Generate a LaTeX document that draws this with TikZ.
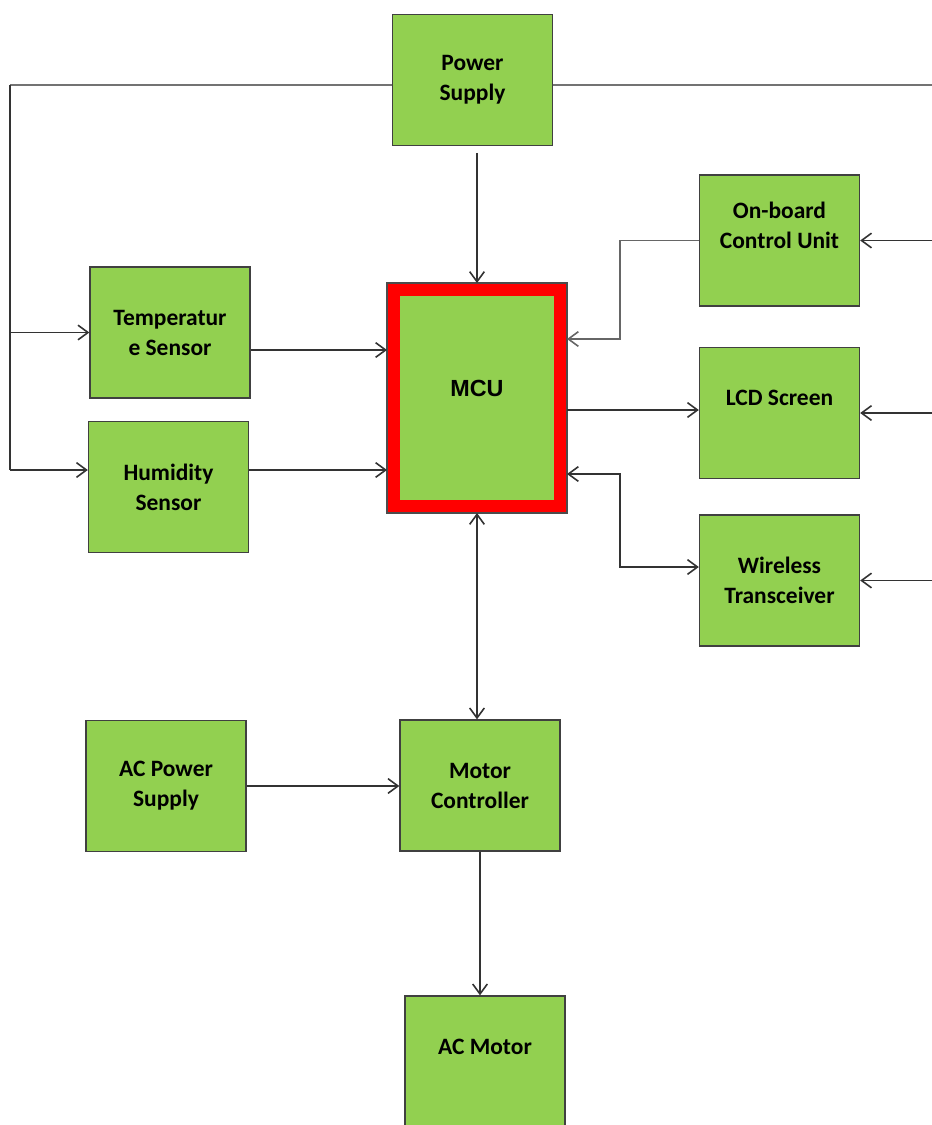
\documentclass[tikz,border=0pt]{standalone}
\usepackage{fontspec}
\setmainfont{Carlito}
\newfontfamily\mcufont{Liberation Sans}
\usetikzlibrary{arrows.meta}
\definecolor{boxgreen}{HTML}{92D050}
\definecolor{wire}{HTML}{333333}
\tikzset{
	block/.style={draw=black!75, line width=1pt, fill=boxgreen, minimum width=120pt, minimum height=98.25pt, inner sep=0pt, align=center, font=\fontsize{17.6}{22.5}\selectfont\bfseries},
	mcublock/.style={draw=red, line width=9.75pt, fill=boxgreen, minimum width=125.25pt, minimum height=162.75pt, inner sep=0pt, font=\fontsize{17.5}{21}\selectfont\mcufont\bfseries},
	wireline/.style={draw=wire, line width=1.2pt},
	>={Straight Barb[length=7.5pt,width=11pt]}
}
\begin{document}
\begin{tikzpicture}[x=0.75pt, y=-0.75pt]
	\useasboundingbox (0,0) rectangle (932,1125);
	
	% blocks
	\node[block] (ps) at (472.5,80) {Power\\Supply};
	\node[block] (temp) at (170,332.5) {Temperatur\\e Sensor};
	\node[block] (hum) at (168.5,487) {Humidity\\Sensor};
	\node[mcublock] (mcu) at (477,398) {\raisebox{14pt}{MCU}};
	\draw[draw=black!70, line width=0.8pt] (mcu.north west) rectangle (mcu.south east);
	\node[block] (ocu) at (779.5,240.5) {On-board\\Control Unit\\\mbox{}};
	\node[block] (lcd) at (779.5,413) {LCD Screen\\\mbox{}};
	\node[block] (wt) at (779.5,580.5) {Wireless\\Transceiver};
	\node[block] (acps) at (166,786) {AC Power\\Supply};
	\node[block] (mc) at (480,785.5) {Motor\\Controller};
	\node[block] (acm) at (485,1061.5) {AC Motor\\\mbox{}};
	
	% supply lines
	\coordinate (lt) at (10,85);
	\coordinate (lb) at (10,470);
	\coordinate (rt) at (932,85);
	\draw[wireline, draw=black!55] (ps.west |- lt) -- (lt);
	\draw[wireline] (lt) -- (lb);
	\draw[wireline, draw=black!55] (ps.east |- rt) -- (rt);
	\draw[wireline, ->] (lt |- temp.west) -- (temp.west);
	\draw[wireline, ->] (lb) -- (lb -| hum.west);
	\draw[wireline, ->] (rt |- ocu.east) -- (ocu.east);
	\draw[wireline, ->] (rt |- lcd.east) -- (lcd.east);
	\draw[wireline, ->] (rt |- wt.east) -- (wt.east);
	
	% signal lines
	\draw[wireline, ->, shorten <=5pt] (mcu.north |- ps.south) -- (mcu.north);
	\draw[wireline, ->] (temp.east |- 0,350) -- (mcu.west |- 0,350);
	\draw[wireline, ->] (hum.east |- 0,470) -- (mcu.west |- 0,470);
	\draw[wireline, draw=black!60, ->] (ocu.west) -| (620,339) -- (mcu.east |- 0,339);
	\draw[wireline, ->] (mcu.east |- 0,410) -- (lcd.west |- 0,410);
	\draw[wireline, <->] (mcu.east |- 0,474) -| (620,567) -- (wt.west |- 0,567);
	\draw[wireline, <->] (mcu.south) -- (mcu.south |- mc.north);
	\draw[wireline, ->] (acps.east) -- (acps.east -| mc.west);
	\draw[wireline, ->] (mc.south) -- (mc.south |- acm.north);
\end{tikzpicture}
\end{document}
